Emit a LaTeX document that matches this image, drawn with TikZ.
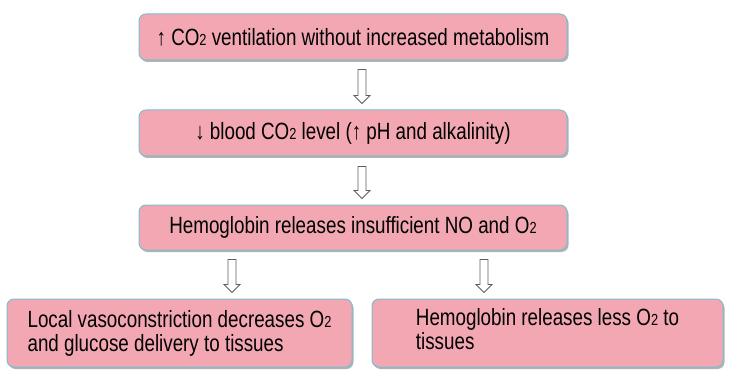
\documentclass[tikz,border=0pt]{standalone}
\usepackage{fontspec}
\setmainfont{Liberation Sans}[FakeStretch=0.8]
\usetikzlibrary{positioning, calc, shadows}
\definecolor{boxpink}{RGB}{242,167,178}
\definecolor{boxedge}{RGB}{125,190,208}
\definecolor{arrowgray}{RGB}{95,95,95}
\newcommand{\lowtwo}{{\fontsize{16}{16}\selectfont 2}}

\tikzset{
  stepbox/.style={draw=boxedge, line width=1pt, fill=boxpink, rounded corners=7pt,
    inner sep=0pt, font=\fontsize{23.5}{24}\selectfont, align=left,
    drop shadow={shadow xshift=1.5pt, shadow yshift=-2pt, fill=black, opacity=0.3}},
  blockarrow/.style={draw=arrowgray, line width=0.9pt, fill=white, line join=miter},
}

% hollow block arrow from #1 (top) down to #2 (tip)
\newcommand{\flowarrow}[2]{%
  \draw[blockarrow] let \p1=(#1), \p2=(#2) in
    (\x1-4pt,\y1) -- (\x1+4pt,\y1) -- (\x1+4pt,\y2+8pt) -- (\x1+8pt,\y2+8pt)
    -- (\x1,\y2) -- (\x1-8pt,\y2+8pt) -- (\x1-4pt,\y2+8pt) -- cycle;}

\begin{document}
\begin{tikzpicture}[x=1pt, y=1pt]
    \useasboundingbox (0,0) rectangle (750,-385);

    % chain of boxes
    \node[stepbox, minimum width=428pt, minimum height=46pt] (vent) at (353,-37)
        {↑ CO\lowtwo{} ventilation without increased metabolism};
    \node[stepbox, minimum width=428pt, minimum height=46pt] (blood) at (353,-133)
        {↓ blood CO\lowtwo{} level (↑ pH and alkalinity)};
    \node[stepbox, minimum width=428pt, minimum height=45pt] (hemo) at (353,-227.5)
        {Hemoglobin releases insufficient NO and O\lowtwo};

    % two outcomes
    \node[stepbox, minimum width=345pt, minimum height=68pt] (vaso) at (179.5,-333)
        {Local vasoconstriction decreases O\lowtwo\\and glucose delivery to tissues};
    \node[stepbox, minimum width=351pt, minimum height=68pt] (less) at (547.5,-333)
        {Hemoglobin releases less O\lowtwo{} to\\tissues\strut};

    % arrow ends
    \coordinate (a1s) at ($(vent.south)+(9,-9)$);
    \coordinate (a1e) at ($(blood.north)+(9,6)$);
    \coordinate (a2s) at ($(blood.south)+(9,-10)$);
    \coordinate (a2e) at ($(hemo.north)+(9,6)$);
    \coordinate (a3s) at ($(hemo.south)+(-121,-9)$);
    \coordinate (a3e) at ($(vaso.north)+(52.5,6)$);
    \coordinate (a4s) at ($(hemo.south)+(131,-9)$);
    \coordinate (a4e) at ($(less.north)+(-63.5,6)$);

    \flowarrow{a1s}{a1e}
    \flowarrow{a2s}{a2e}
    \flowarrow{a3s}{a3e}
    \flowarrow{a4s}{a4e}
\end{tikzpicture}
\end{document}
